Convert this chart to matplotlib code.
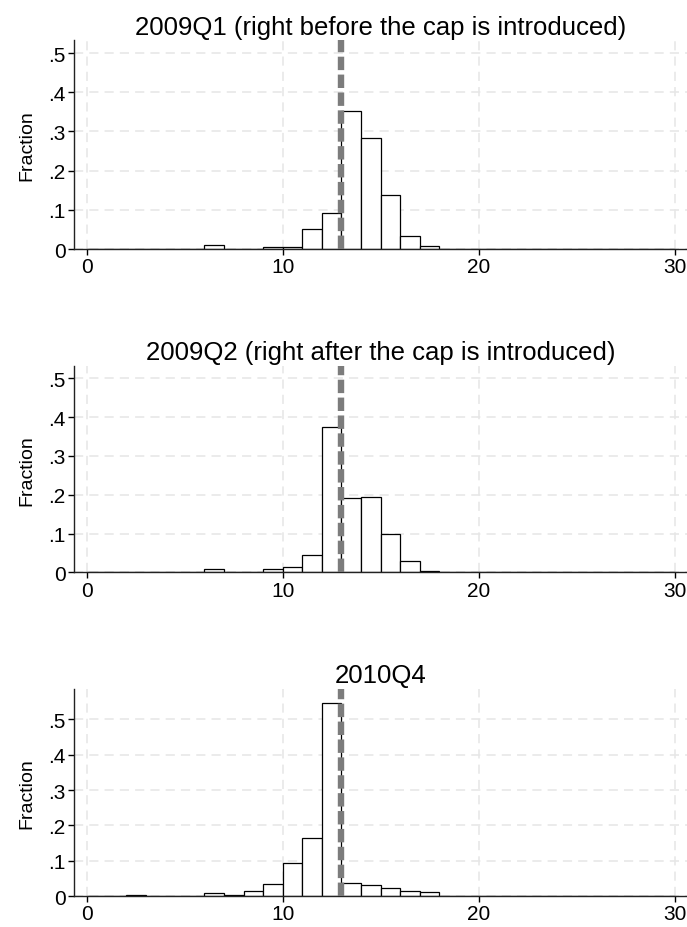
# 캡 도입 전후 분포 히스토그램 (3개 패널)
import numpy as np
import matplotlib.pyplot as plt
import matplotlib

matplotlib.rc('font', family=['Liberation Sans', 'DejaVu Sans'])

# bin 왼쪽 끝 (폭 1)
bins = list(range(30))

# 2009Q1
q1_2009 = [0, 0.0005, 0.0005, 0.0005, 0.001, 0.0005, 0.009, 0.001, 0.001, 0.005,
           0.004, 0.051, 0.092, 0.353, 0.284, 0.137, 0.033, 0.007, 0.001, 0.0005,
           0.001, 0.0005, 0.001, 0.0005, 0.0005, 0.0005, 0.001, 0.0005, 0.0005, 0.0005]
# 2009Q2
q2_2009 = [0, 0.0005, 0.0005, 0.0005, 0.0005, 0.001, 0.008, 0.001, 0.0005, 0.009,
           0.013, 0.045, 0.376, 0.192, 0.193, 0.099, 0.030, 0.004, 0.0005, 0.0005,
           0.001, 0.0005, 0.001, 0.0005, 0.0005, 0.0005, 0.001, 0.0005, 0.0005, 0.0005]
# 2010Q4
q4_2010 = [0, 0.0005, 0.003, 0.0005, 0.0005, 0.0005, 0.009, 0.003, 0.014, 0.033,
           0.093, 0.165, 0.547, 0.036, 0.030, 0.023, 0.013, 0.011, 0.0005, 0.0005,
           0.001, 0.0005, 0.0005, 0.001, 0.0005, 0.0005, 0.0005, 0.0005, 0.001, 0.0005]

titles = ['2009Q1 (right before the cap is introduced)',
          '2009Q2 (right after the cap is introduced)',
          '2010Q4']
series = [q1_2009, q2_2009, q4_2010]
cap = 13
yticks = [0, 0.1, 0.2, 0.3, 0.4, 0.5]
ylabels = ['0', '.1', '.2', '.3', '.4', '.5']
xticks = [0, 10, 20, 30]

# 패널 위치 (left, bottom, width, height), y축 상단
boxes = [[0.1077, 0.7306, 0.8923, 0.2247],
         [0.1077, 0.3822, 0.8923, 0.2223],
         [0.1077, 0.0334, 0.8923, 0.2231]]
ytops = [0.532, 0.532, 0.586]

fig = plt.figure(figsize=(6.87, 9.28), dpi=100)
for i in range(3):
    ax = fig.add_axes(boxes[i])
    ax.set_axisbelow(True)
    ax.grid(True, color='#e6e6e6', linestyle=(0, (6, 4)), linewidth=1.1)
    ax.bar(bins, series[i], width=1, align='edge', color='white',
           edgecolor='black', linewidth=0.9, zorder=2)
    ax.axvline(cap, color='#7c7c7c', linewidth=4.6, linestyle=(0, (2.1, 0.7)), zorder=3)
    ax.set_xlim(-0.65, 30.63)
    ax.set_ylim(0, ytops[i])
    ax.set_xticks(xticks)
    ax.set_yticks(yticks)
    ax.set_yticklabels(ylabels)
    ax.tick_params(labelsize=15, length=4, width=1, direction='out', pad=2)
    for s in ['top', 'right']:
        ax.spines[s].set_visible(False)
    for s in ['left', 'bottom']:
        ax.spines[s].set_linewidth(1)
        ax.spines[s].set_color('#222222')
    ax.set_ylabel('Fraction', fontsize=14, labelpad=9)
    ax.set_title(titles[i], fontsize=18.5, pad=5)

plt.savefig('out.png', dpi=100)
